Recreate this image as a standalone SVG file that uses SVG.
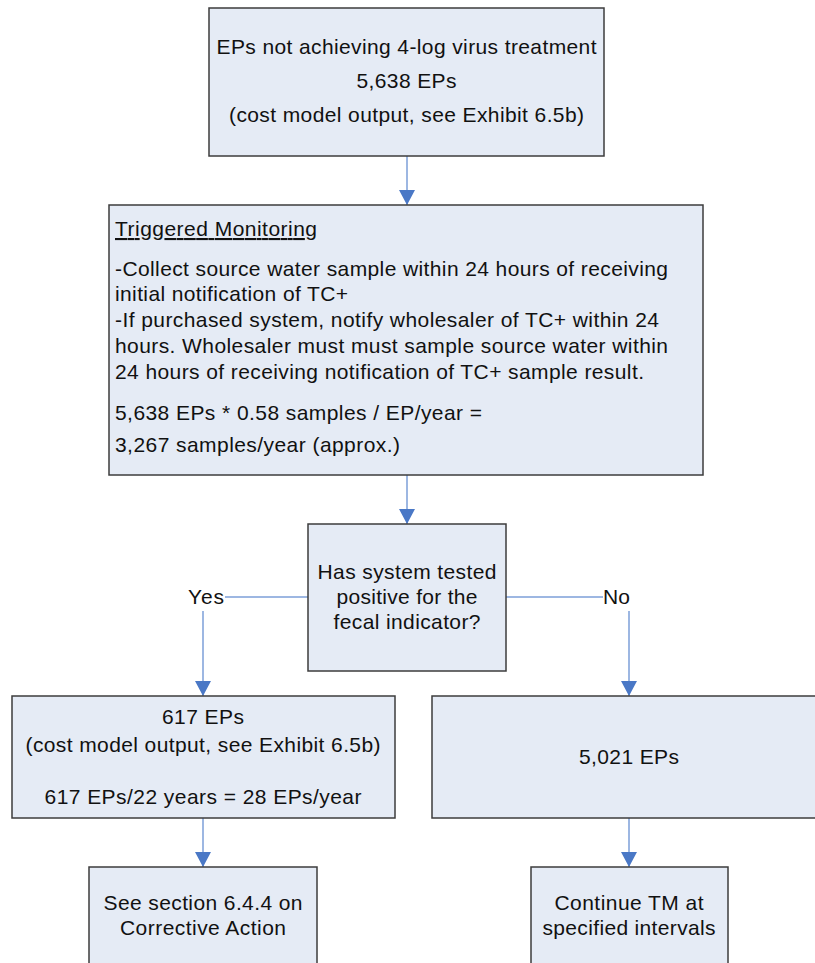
<svg xmlns="http://www.w3.org/2000/svg" width="815" height="963" viewBox="0 0 815 963">
<style>
.box{fill:#E5EBF5;stroke:#3c3c3c;stroke-width:1.5}
text{font-family:"Liberation Sans",Arial,sans-serif;font-size:21px;fill:#111}
.c{text-anchor:middle}
.conn{stroke:#7C9FD8;stroke-width:1.5;fill:none}
</style>
<defs>
<marker id="ah" markerUnits="userSpaceOnUse" markerWidth="16" markerHeight="16" viewBox="0 0 16 16" refX="15" refY="8" orient="auto">
<path d="M0,0 L15,8 L0,16 Z" fill="#4A78C6"/>
</marker>
</defs>
<g id="connectors">
<line class="conn" x1="407" y1="156" x2="407" y2="205" marker-end="url(#ah)"/>
<line class="conn" x1="407" y1="475" x2="407" y2="524" marker-end="url(#ah)"/>
<line class="conn" x1="225" y1="597" x2="308" y2="597"/>
<line class="conn" x1="506" y1="597" x2="603" y2="597"/>
<line class="conn" x1="203" y1="611" x2="203" y2="696" marker-end="url(#ah)"/>
<line class="conn" x1="629" y1="611" x2="629" y2="696" marker-end="url(#ah)"/>
<line class="conn" x1="203" y1="818" x2="203" y2="867" marker-end="url(#ah)"/>
<line class="conn" x1="629" y1="818" x2="629" y2="867" marker-end="url(#ah)"/>
<text x="206" y="604" class="c" textLength="36" lengthAdjust="spacing">Yes</text>
<text x="616.5" y="604" class="c" textLength="27" lengthAdjust="spacing">No</text>
</g>
<g id="n1">
<rect class="box" x="209" y="8" width="395" height="148"/>
<text x="406.5" y="54" class="c" textLength="380" lengthAdjust="spacing">EPs not achieving 4-log virus treatment</text>
<text x="406.5" y="88" class="c" textLength="100" lengthAdjust="spacing">5,638 EPs</text>
<text x="406.5" y="122" class="c" textLength="355" lengthAdjust="spacing">(cost model output, see Exhibit 6.5b)</text>
</g>
<g id="n2">
<rect class="box" x="109" y="205" width="594" height="270"/>
<text x="115" y="236" text-decoration="underline" textLength="202" lengthAdjust="spacing">Triggered Monitoring</text>
<text x="115" y="276" textLength="553" lengthAdjust="spacing">-Collect source water sample within 24 hours of receiving</text>
<text x="115" y="301" textLength="233" lengthAdjust="spacing">initial notification of TC+</text>
<text x="115" y="327" textLength="544" lengthAdjust="spacing">-If purchased system, notify wholesaler of TC+ within 24</text>
<text x="115" y="353" textLength="553" lengthAdjust="spacing">hours. Wholesaler must must sample source water within</text>
<text x="115" y="379" textLength="529" lengthAdjust="spacing">24 hours of receiving notification of TC+ sample result.</text>
<text x="115" y="420" textLength="367" lengthAdjust="spacing">5,638 EPs * 0.58 samples / EP/year =</text>
<text x="115" y="452" textLength="285" lengthAdjust="spacing">3,267 samples/year (approx.)</text>
</g>
<g id="n3">
<rect class="box" x="308" y="524" width="198" height="147"/>
<text x="407" y="579" class="c" textLength="179" lengthAdjust="spacing">Has system tested</text>
<text x="407" y="604" class="c" textLength="141" lengthAdjust="spacing">positive for the</text>
<text x="407" y="629" class="c" textLength="147" lengthAdjust="spacing">fecal indicator?</text>
</g>
<g id="n4">
<rect class="box" x="12" y="696" width="383" height="122"/>
<text x="203" y="724" class="c" textLength="82" lengthAdjust="spacing">617 EPs</text>
<text x="203" y="752" class="c" textLength="355" lengthAdjust="spacing">(cost model output, see Exhibit 6.5b)</text>
<text x="203" y="804" class="c" textLength="317" lengthAdjust="spacing">617 EPs/22 years = 28 EPs/year</text>
</g>
<g id="n5">
<rect class="box" x="432" y="696" width="400" height="122"/>
<text x="629" y="764" class="c" textLength="100" lengthAdjust="spacing">5,021 EPs</text>
</g>
<g id="n6">
<rect class="box" x="89" y="867" width="228" height="110"/>
<text x="203" y="910" class="c" textLength="199" lengthAdjust="spacing">See section 6.4.4 on</text>
<text x="203" y="935" class="c" textLength="166" lengthAdjust="spacing">Corrective Action</text>
</g>
<g id="n7">
<rect class="box" x="531" y="867" width="197" height="110"/>
<text x="629" y="910" class="c" textLength="149" lengthAdjust="spacing">Continue TM at</text>
<text x="629" y="935" class="c" textLength="173" lengthAdjust="spacing">specified intervals</text>
</g>
</svg>
